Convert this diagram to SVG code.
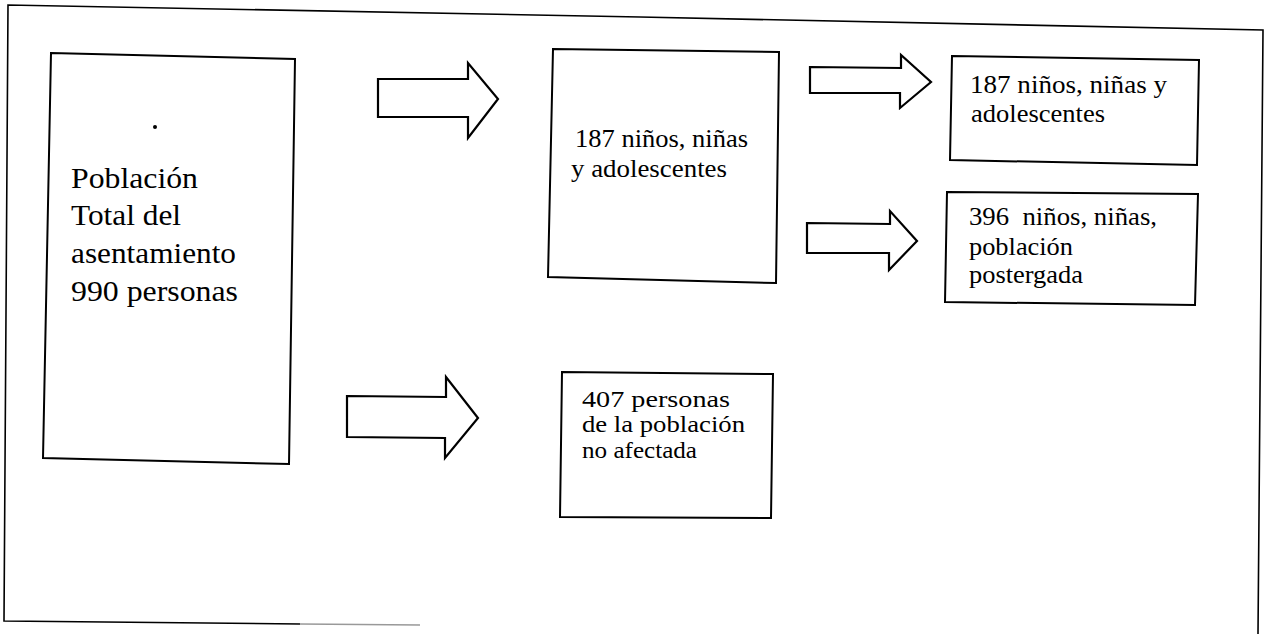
<svg xmlns="http://www.w3.org/2000/svg" width="1271" height="634" viewBox="0 0 1271 634">
<style>
.box{fill:#fff;stroke:#000;stroke-width:2;stroke-linejoin:miter}
.arrow{fill:#fff;stroke:#000;stroke-width:2.2;stroke-linejoin:miter}
.frame{fill:none;stroke:#000;stroke-width:1.6}
.t{font-family:"Liberation Serif","Times New Roman",serif;fill:#000}
</style>
<rect width="1271" height="634" fill="#fff"/>
<g id="frame">
<polyline class="frame" points="1258,634 1263,30 640,17 8,5 4,621 300,624"/>
<line x1="300" y1="624" x2="420" y2="625" stroke="#999" stroke-width="1.4"/>
</g>
<g id="node-total">
<polygon class="box" points="51,53 295,59 289,464 43,458"/>
<circle cx="155" cy="127" r="2" fill="#000"/>
<g class="t" font-size="29">
<text x="71" y="188" textLength="127" lengthAdjust="spacingAndGlyphs">Población</text>
<text x="71" y="225" textLength="110" lengthAdjust="spacingAndGlyphs">Total del</text>
<text x="71" y="263" textLength="165" lengthAdjust="spacingAndGlyphs">asentamiento</text>
<text x="71" y="301" textLength="167" lengthAdjust="spacingAndGlyphs">990 personas</text>
</g>
</g>
<g id="node-187a">
<polygon class="box" points="553,49 779,52 776,283 548,277"/>
<g class="t" font-size="25">
<text x="575" y="147" textLength="173" lengthAdjust="spacingAndGlyphs">187 niños, niñas</text>
<text x="571" y="177" textLength="156" lengthAdjust="spacingAndGlyphs">y adolescentes</text>
</g>
</g>
<g id="node-187b">
<polygon class="box" points="952,56 1199,60 1197,165 950,160"/>
<g class="t" font-size="26">
<text x="970" y="93" textLength="197" lengthAdjust="spacingAndGlyphs">187 niños, niñas y</text>
<text x="971" y="122" textLength="134" lengthAdjust="spacingAndGlyphs">adolescentes</text>
</g>
</g>
<g id="node-396">
<polygon class="box" points="947,192 1198,194 1195,305 945,302"/>
<g class="t" font-size="25">
<text x="969" y="225" textLength="188" lengthAdjust="spacingAndGlyphs" xml:space="preserve">396  niños, niñas,</text>
<text x="969" y="255" textLength="104" lengthAdjust="spacingAndGlyphs">población</text>
<text x="969" y="283" textLength="114" lengthAdjust="spacingAndGlyphs">postergada</text>
</g>
</g>
<g id="node-407">
<polygon class="box" points="562,372 773,374 771,518 560,517"/>
<g class="t" font-size="23.5">
<text x="582" y="407" textLength="148" lengthAdjust="spacingAndGlyphs">407 personas</text>
<text x="582" y="432" textLength="163" lengthAdjust="spacingAndGlyphs">de la población</text>
<text x="582" y="458" textLength="115" lengthAdjust="spacingAndGlyphs">no afectada</text>
</g>
</g>
<g id="connectors">
<polygon class="arrow" points="378,79 468,79 468,63 498,99 468,138 468,117 378,117"/>
<polygon class="arrow" points="810,67 901,68 901,55 931,82 900,108 900,93 810,93"/>
<polygon class="arrow" points="807,223 890,224 890,211 917,241 889,270 889,253 807,253"/>
<polygon class="arrow" points="347,396 446,397 446,377 478,418 445,458 445,438 347,437"/>
</g>
</svg>
